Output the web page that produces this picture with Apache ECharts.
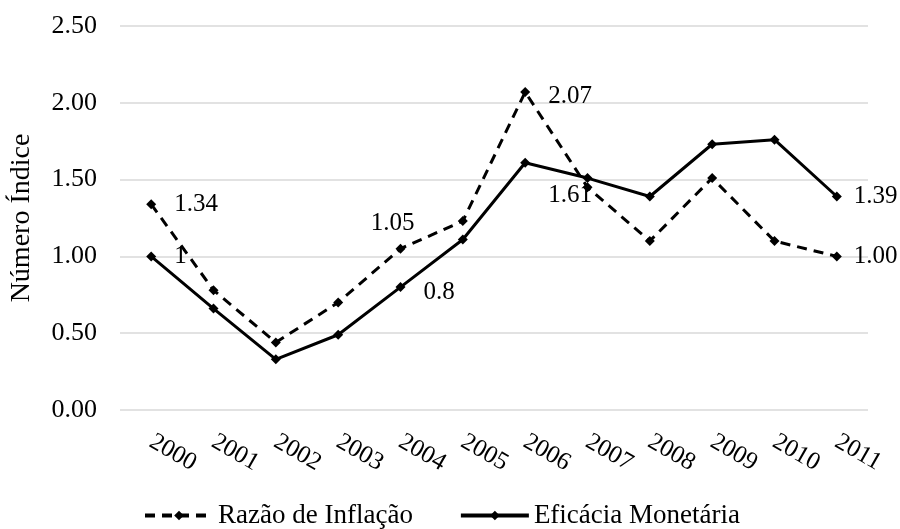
<!DOCTYPE html>
<html>
<head>
<meta charset="utf-8">
<script src="https://cdn.jsdelivr.net/npm/echarts@6/dist/echarts.min.js"></script>
<style>
    html, body { margin: 0; padding: 0; background: #fff; }
    #main { width: 900px; height: 529px; }
</style>
</head>
<body>
<div id="main"></div>
<script>
// 数据
var anos = ['2000', '2001', '2002', '2003', '2004', '2005', '2006', '2007', '2008', '2009', '2010', '2011'];
var razaoInflacao = [1.34, 0.78, 0.44, 0.70, 1.05, 1.23, 2.07, 1.45, 1.10, 1.51, 1.10, 1.00];
var eficaciaMonetaria = [1.00, 0.66, 0.33, 0.49, 0.80, 1.11, 1.61, 1.51, 1.39, 1.73, 1.76, 1.39];
// 标签文字（空 = 不显示）
var razaoRotulos = ['1.34', '', '', '', '1.05', '', '2.07', '', '', '', '', '1.00'];
var eficaciaRotulos = ['1', '', '', '', '0.8', '', '1.61', '', '', '', '', '1.39'];
var yTicks = ['0.00', '0.50', '1.00', '1.50', '2.00', '2.50'];

(function() {
    var myChart = echarts.init(document.getElementById('main'));
    var fonte = '"Liberation Serif", "DejaVu Serif", serif';

    // 每个点的标签位置
    var razaoPos = {
        0: { position: 'right', distance: 18 },
        4: { position: 'top', distance: 8, offset: [-8, 0] },
        6: { position: 'right', distance: 18, offset: [0, 4] },
        11: { position: 'right', distance: 12 }
    };
    var eficaciaPos = {
        0: { position: 'right', distance: 18 },
        4: { position: 'right', distance: 18, offset: [0, 5] },
        6: { position: 'right', distance: 18, offset: [0, 33] },
        11: { position: 'right', distance: 12 }
    };

    function montar(valores, rotulos, pos) {
        return valores.map(function(v, i) {
            var item = { value: v };
            if (rotulos[i]) {
                var p = pos[i];
                item.label = {
                    show: true,
                    formatter: rotulos[i],
                    position: p.position,
                    distance: p.distance,
                    offset: p.offset || [0, 0]
                };
            }
            return item;
        });
    }

    var option = {
        backgroundColor: '#ffffff',
        animation: false,
        textStyle: { fontFamily: fonte },
        grid: { left: 118, right: 32, top: 26, bottom: 119 },
        legend: {
            top: 502,
            left: 143,
            padding: 0,
            itemWidth: 68,
            itemHeight: 12,
            itemGap: 46,
            lineStyle: { width: 4 },
            textStyle: { fontFamily: fonte, fontSize: 27, color: '#000' },
            data: ['Razão de Inflação', 'Eficácia Monetária']
        },
        xAxis: {
            type: 'category',
            data: anos,
            boundaryGap: true,
            axisLine: { show: false },
            axisTick: { show: false },
            axisLabel: {
                interval: 0,
                rotate: -30,
                margin: 30,
                fontFamily: fonte,
                fontSize: 25,
                color: '#000'
            }
        },
        yAxis: {
            type: 'value',
            min: 0,
            max: 2.5,
            interval: 0.5,
            name: 'Número Índice',
            nameLocation: 'middle',
            nameGap: 84,
            nameTextStyle: { fontFamily: fonte, fontSize: 28, color: '#000' },
            axisLine: { show: false },
            axisTick: { show: false },
            splitLine: { lineStyle: { color: '#d9d9d9', width: 1.5 } },
            axisLabel: {
                margin: 23,
                fontFamily: fonte,
                fontSize: 26,
                color: '#000',
                formatter: function(v) {
                    return yTicks[Math.round(v / 0.5)];
                }
            }
        },
        series: [
            {
                name: 'Razão de Inflação',
                type: 'line',
                data: montar(razaoInflacao, razaoRotulos, razaoPos),
                symbol: 'diamond',
                symbolSize: 10,
                itemStyle: { color: '#000' },
                lineStyle: { color: '#000', width: 3, type: [10, 7] },
                label: { fontFamily: fonte, fontSize: 25, color: '#000' }
            },
            {
                name: 'Eficácia Monetária',
                type: 'line',
                data: montar(eficaciaMonetaria, eficaciaRotulos, eficaciaPos),
                symbol: 'diamond',
                symbolSize: 10,
                itemStyle: { color: '#000' },
                lineStyle: { color: '#000', width: 3 },
                label: { fontFamily: fonte, fontSize: 25, color: '#000' }
            }
        ]
    };

    myChart.setOption(option);
})();
</script>
</body>
</html>
